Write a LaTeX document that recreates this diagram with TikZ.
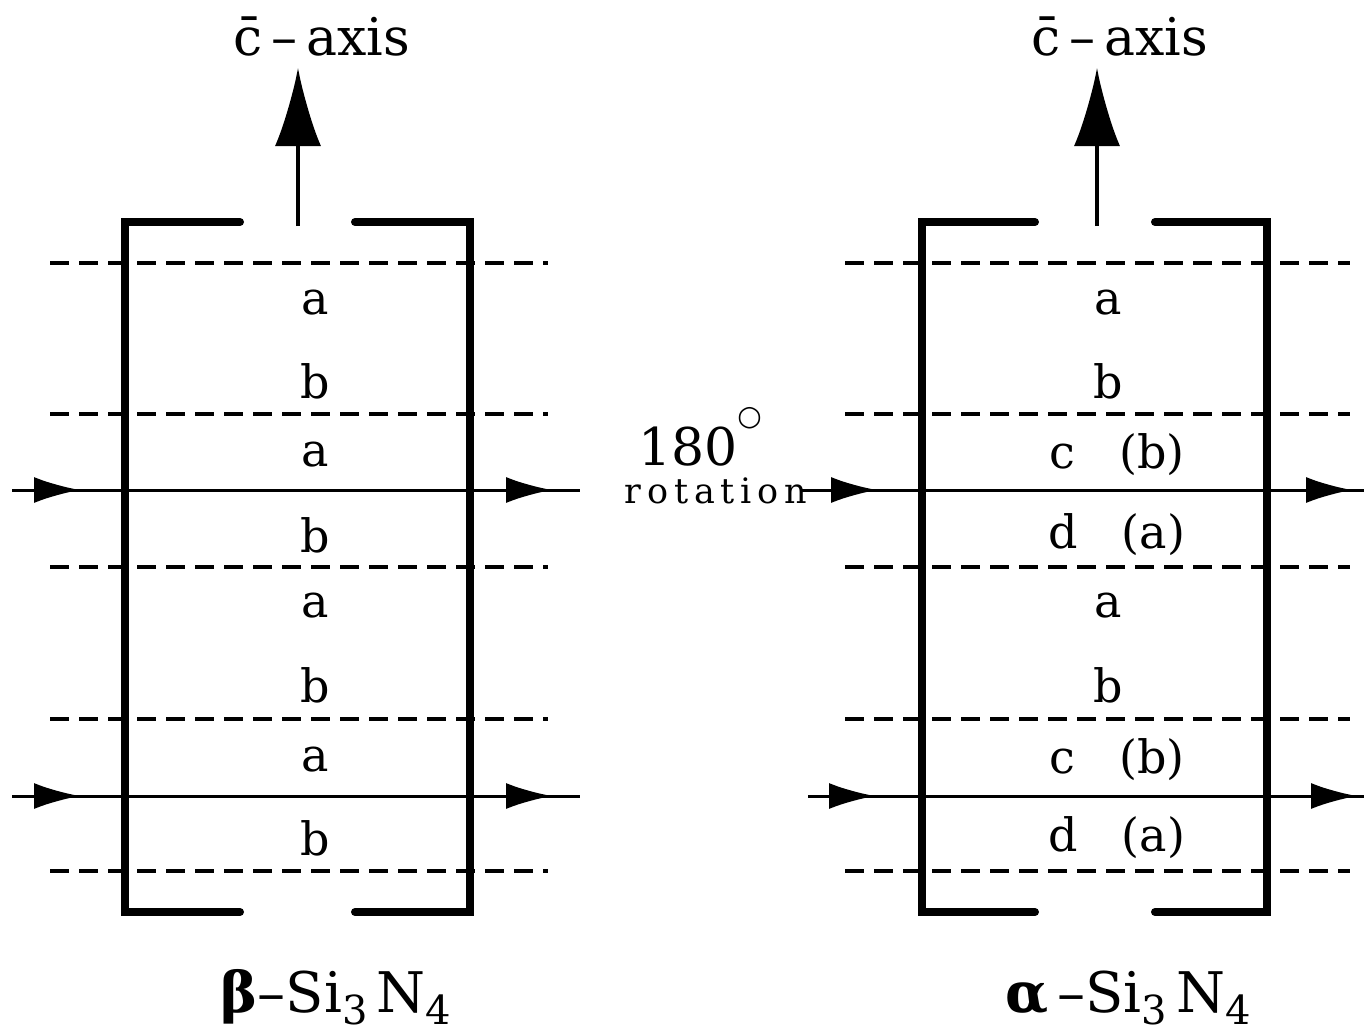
\documentclass[tikz,border=0pt]{standalone}
\usepackage{fontspec}
\setmainfont{DejaVu Serif}
\usetikzlibrary{arrows.meta}
\newcommand{\subsc}[1]{\raisebox{-12pt}{\fontsize{40}{40}\selectfont #1}}
\begin{document}
\begin{tikzpicture}[x=1pt,y=-1pt,
  frame/.style={line width=8pt,line cap=round},
  dline/.style={line width=3.4pt,dash pattern=on 19pt off 10pt},
  sline/.style={line width=3pt},
  harrow/.style={line width=3pt,-{Latex[length=46pt,width=26pt]}},
  varrow/.style={line width=3.5pt,-{Latex[length=78pt,width=46pt]}},
  lab/.style={font=\fontsize{46}{48}\selectfont},
  ttl/.style={font=\fontsize{52}{54}\selectfont},
  bot/.style={font=\fontsize{56}{58}\selectfont}]
\useasboundingbox (0,0) rectangle (1364,1033);
% ---------- left (beta) ----------
\foreach \y in {263,414,567,719,871} \draw[dline] (50,\y) -- (548,\y);
\draw[frame] (240,222) -- (125,222) -- (125,912) -- (240,912);
\draw[frame] (355,222) -- (470,222) -- (470,912) -- (355,912);
\foreach \y in {490,796} {
  \draw[sline] (12,\y) -- (580,\y);
  \draw[harrow] (30,\y) -- (80,\y);
  \draw[harrow] (500,\y) -- (552,\y);
}
\coordinate (lb) at (298,226);
\coordinate (lt) at (298,68);
\draw[varrow] (lb) -- (lt);
\node[ttl] (lax) at (322,36) {\=c\,–\,axis};
\foreach \y/\t in {303/a,381/b,455/a,535/b,606/a,685/b,760/a,838/b}
  \node[lab] at (315,\y) {\t};
\node[bot,anchor=base] (beta) at (336,1012) {\textbf{β}–Si\subsc{3}\,N\subsc{4}};
% ---------- right (alpha) ----------
\foreach \y in {263,414,567,719,871} \draw[dline] (845,\y) -- (1350,\y);
\draw[frame] (1035,222) -- (922,222) -- (922,912) -- (1035,912);
\draw[frame] (1155,222) -- (1267,222) -- (1267,912) -- (1155,912);
\draw[sline] (800,490) -- (1364,490);
\draw[harrow] (815,490) -- (877,490);
\draw[harrow] (1300,490) -- (1352,490);
\draw[sline] (808,796) -- (1364,796);
\draw[harrow] (825,796) -- (875,796);
\draw[harrow] (1305,796) -- (1357,796);
\coordinate (rb) at (1097,226);
\coordinate (rt) at (1097,68);
\draw[varrow] (rb) -- (rt);
\node[ttl] (rax) at (1120,36) {\=c\,–\,axis};
\foreach \y/\t in {303/a,381/b,606/a,685/b}
  \node[lab] at (1108,\y) {\t};
\foreach \y/\t in {455/c\ \ \ (b),535/d\ \ \ (a),760/c\ \ \ (b),838/d\ \ \ (a)}
  \node[lab] at (1117,\y) {\t};
\node[bot,anchor=base] (alpha) at (1128,1012) {\textbf{α}\,–Si\subsc{3}\,N\subsc{4}};
% ---------- rotation label ----------
\node[font=\fontsize{52}{54}\selectfont] (deg) at (700,437) {180\raisebox{40pt}{\fontsize{28}{28}\selectfont ○}};
\node[font=\fontsize{35}{36}\selectfont,anchor=base] (rot) at (716,503) {r\,o\,t\,a\,t\,i\,o\,n};
\end{tikzpicture}
\end{document}
